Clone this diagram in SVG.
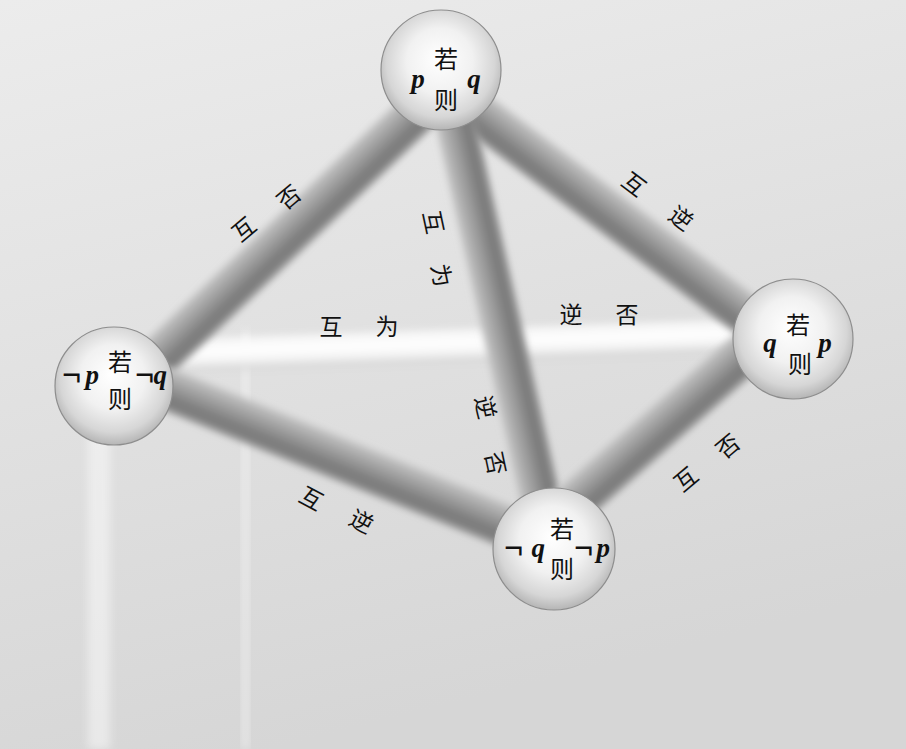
<svg xmlns="http://www.w3.org/2000/svg" width="906" height="749" viewBox="0 0 906 749">
<style>
.cjk{font-family:"Noto Sans CJK SC","Noto Sans",sans-serif;font-size:24px;fill:#111;text-anchor:middle;dominant-baseline:central}
.lbl{font-family:"Noto Sans CJK SC","Noto Sans",sans-serif;font-size:23px;fill:#111;text-anchor:middle;dominant-baseline:central}
.var{font-family:"Liberation Serif",serif;font-style:italic;font-weight:bold;font-size:27px;fill:#111}
.neg{font-family:"Liberation Serif",serif;font-weight:bold;font-size:34px;fill:#111}
.bar{fill:url(#barGrad);filter:url(#soft)}
.ball{fill:url(#ballGrad);stroke:#8d8d8d;stroke-width:1.2}
</style>
<defs>
<linearGradient id="bg" x1="0" y1="0" x2="0.3" y2="1">
<stop offset="0" stop-color="#ececec"/>
<stop offset="1" stop-color="#d6d6d6"/>
</linearGradient>
<linearGradient id="barGrad" x1="0" y1="0" x2="0" y2="1">
<stop offset="0" stop-color="#c6c6c6"/>
<stop offset="0.35" stop-color="#a0a0a0"/>
<stop offset="0.75" stop-color="#777777"/>
<stop offset="1" stop-color="#929292"/>
</linearGradient>
<linearGradient id="whiteGrad" x1="0" y1="0" x2="0" y2="1">
<stop offset="0" stop-color="#ffffff" stop-opacity="0.6"/>
<stop offset="0.4" stop-color="#ffffff"/>
<stop offset="0.7" stop-color="#f4f4f4"/>
<stop offset="1" stop-color="#cfcfcf" stop-opacity="0.6"/>
</linearGradient>
<radialGradient id="ballGrad" cx="0.5" cy="0.45" r="0.55" fx="0.48" fy="0.4">
<stop offset="0" stop-color="#ffffff"/>
<stop offset="0.5" stop-color="#f1f1f1"/>
<stop offset="0.82" stop-color="#d6d6d6"/>
<stop offset="1" stop-color="#b5b5b5"/>
</radialGradient>
<filter id="soft" x="-10%" y="-50%" width="120%" height="200%">
<feGaussianBlur stdDeviation="3.5"/>
</filter>
<filter id="streak" x="-50%" y="-10%" width="200%" height="120%">
<feGaussianBlur stdDeviation="4"/>
</filter>
</defs>
<rect x="0" y="0" width="906" height="749" fill="url(#bg)"/>
<rect x="88" y="420" width="22" height="329" fill="#ffffff" opacity="0.45" filter="url(#streak)"/>
<rect x="243" y="330" width="5" height="419" fill="#ffffff" opacity="0.6" filter="url(#streak)"/>
<g id="connectors">
<g transform="translate(170,356) rotate(-2.0)"><rect x="0" y="-17" width="570" height="34" fill="url(#whiteGrad)" filter="url(#soft)"/></g>
<g transform="translate(140,375) rotate(-43.45)"><rect class="bar" x="0" y="-21" width="393" height="42"/></g>
<g transform="translate(460,100) rotate(36.93)"><rect class="bar" x="0" y="-21" width="388" height="42"/></g>
<g transform="translate(545,520) rotate(257.33)"><rect class="bar" x="0" y="-20" width="456" height="40"/></g>
<g transform="translate(150,382) rotate(22.05)"><rect class="bar" x="0" y="-21" width="421" height="42"/></g>
<g transform="translate(560,515) rotate(-41.2)"><rect class="bar" x="0" y="-21" width="266" height="42"/></g>
</g>
<g id="edge-labels">
<text class="lbl" transform="translate(243,228) rotate(-40)">互</text>
<text class="lbl" transform="translate(288,196) rotate(-40)">否</text>
<text class="lbl" transform="translate(635,183) rotate(37)">互</text>
<text class="lbl" transform="translate(682,217) rotate(37)">逆</text>
<text class="lbl" transform="translate(435,222) rotate(78)">互</text>
<text class="lbl" transform="translate(443,275) rotate(78)">为</text>
<text class="lbl" transform="translate(487,407) rotate(78)">逆</text>
<text class="lbl" transform="translate(497,463) rotate(78)">否</text>
<text class="lbl" x="331" y="325">互</text>
<text class="lbl" x="387" y="325">为</text>
<text class="lbl" x="571" y="313">逆</text>
<text class="lbl" x="627" y="313">否</text>
<text class="lbl" transform="translate(312,497) rotate(28)">互</text>
<text class="lbl" transform="translate(362,520) rotate(28)">逆</text>
<text class="lbl" transform="translate(685,478) rotate(-40)">互</text>
<text class="lbl" transform="translate(727,445) rotate(-40)">否</text>
</g>
<g id="node-top">
<circle class="ball" cx="441" cy="70" r="60"/>
<text class="cjk" x="446" y="57">若</text>
<text class="cjk" x="446" y="98">则</text>
<text class="var" x="418" y="88" text-anchor="middle">p</text>
<text class="var" x="474" y="88" text-anchor="middle">q</text>
</g>
<g id="node-left">
<circle class="ball" cx="114" cy="386" r="59"/>
<text class="cjk" x="120" y="360">若</text>
<text class="cjk" x="120" y="397">则</text>
<text class="neg" x="62" y="386">¬<tspan class="var" dx="4" dy="-2">p</tspan></text>
<text class="neg" x="135" y="386">¬<tspan class="var" dx="-1" dy="-2">q</tspan></text>
</g>
<g id="node-right">
<circle class="ball" cx="793" cy="339" r="60"/>
<text class="cjk" x="798" y="323">若</text>
<text class="cjk" x="800" y="362">则</text>
<text class="var" x="770" y="352" text-anchor="middle">q</text>
<text class="var" x="825" y="352" text-anchor="middle">p</text>
</g>
<g id="node-bottom">
<circle class="ball" cx="554" cy="549" r="61"/>
<text class="cjk" x="562" y="527">若</text>
<text class="cjk" x="562" y="567">则</text>
<text class="neg" x="504" y="559">¬<tspan class="var" dx="8" dy="-2">q</tspan></text>
<text class="neg" x="574" y="559">¬<tspan class="var" dx="3" dy="-2">p</tspan></text>
</g>
</svg>
